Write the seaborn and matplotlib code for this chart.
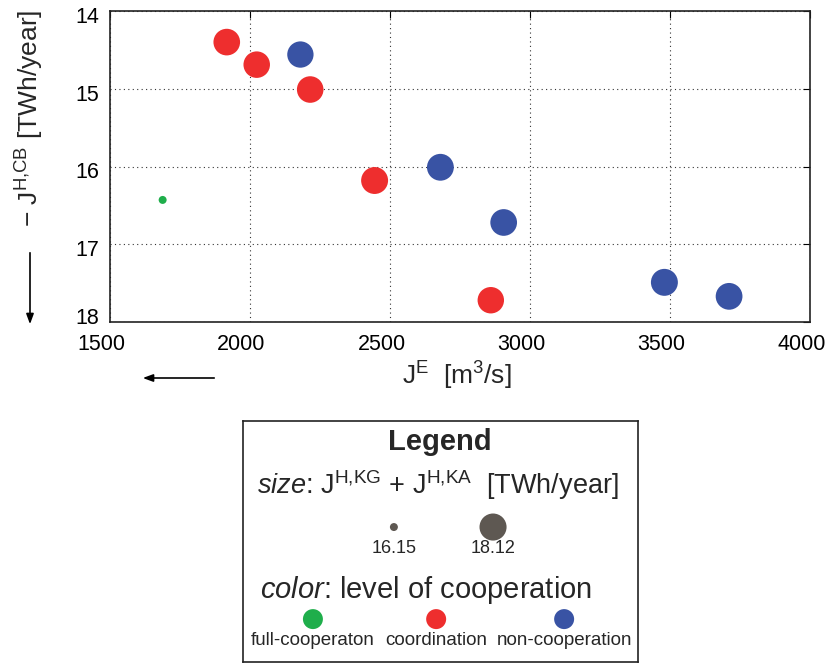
import numpy as np
import pandas as pd
import matplotlib
matplotlib.use('Agg')
import matplotlib.pyplot as plt
import matplotlib.transforms as mtransforms
import seaborn as sns
from matplotlib.patches import FancyArrowPatch

# water release J^E [m3/s]
je = [1688, 1917, 2024, 2180, 2215, 2445, 2680, 2906, 2860, 3480, 3711]
# -J^H,CB [TWh/year]
jh_cb = [16.43, 14.40, 14.69, 14.56, 15.01, 16.18, 16.01, 16.72, 17.72, 17.49, 17.67]
# J^H,KG + J^H,KA [TWh/year] (marker size)
jh_sum = [16.15, 18.05, 18.03, 18.00, 18.04, 18.10, 18.08, 18.06, 18.02, 18.10, 18.07]
level = ['full-cooperaton', 'coordination', 'coordination', 'non-cooperation',
         'coordination', 'coordination', 'non-cooperation', 'non-cooperation',
         'coordination', 'non-cooperation', 'non-cooperation']

levels = ['full-cooperaton', 'coordination', 'non-cooperation']
level_colors = ['#1fae4b', '#ee2e2e', '#3953a4']
size_ticks = [16.15, 18.12]
x_ticks = [1500, 2000, 2500, 3000, 3500, 4000]
y_ticks = [14, 15, 16, 17, 18]

sns.set_style('white')
plt.rcParams['font.family'] = ['Liberation Sans', 'DejaVu Sans']
plt.rcParams['mathtext.fontset'] = 'custom'
plt.rcParams['mathtext.rm'] = 'Liberation Sans'
plt.rcParams['mathtext.it'] = 'Liberation Sans:italic'
plt.rcParams['mathtext.bf'] = 'Liberation Sans:bold'

SIZES = (33, 380)
SIZE_NORM = (16.15, 18.12)

df = pd.DataFrame({'je': je, 'jh_cb': jh_cb, 'jh_sum': jh_sum, 'level': level})

fig = plt.figure(figsize=(8.27, 6.64), dpi=100)
W, H = 827, 664
ax = fig.add_axes([110 / W, 1 - 322 / H, 700 / W, 311 / H])

sns.scatterplot(data=df, x='je', y='jh_cb', hue='level', hue_order=levels,
                palette=level_colors, size='jh_sum', sizes=SIZES,
                size_norm=SIZE_NORM, linewidth=0, alpha=1, legend=False, ax=ax)

ax.set_xlim(1500, 4000)
ax.set_ylim(18, 14)
ax.set_xticks(x_ticks)
ax.set_yticks(y_ticks)
ax.tick_params(direction='in', top=True, right=True, length=5, width=0.8,
               labelsize=15.5, colors='black')
ax.tick_params(axis='x', pad=9)
ax.tick_params(axis='y', pad=8)
ax.grid(True, linestyle=(0, (1, 3)), color='#333333', linewidth=0.8)
for s in ax.spines.values():
    s.set_color('#222222')
    s.set_linewidth(1.2)
ax.set_xlabel('')
ax.set_ylabel('')

# matlab-like label placement (labels sit a bit left / inside the range)
for lab in ax.get_xticklabels():
    lab.set_transform(lab.get_transform() +
                      mtransforms.ScaledTranslation(-8.5 / 100, 0, fig.dpi_scale_trans))
for lab, dy in zip(ax.get_yticklabels(), [-4, -4, -4, -4, 6]):
    lab.set_transform(lab.get_transform() +
                      mtransforms.ScaledTranslation(0, dy / 100, fig.dpi_scale_trans))

fig.text(457 / W, 1 - 376 / H, r'J$^{\mathrm{E}}$  [m$^{3}$/s]', fontsize=19,
         ha='center', va='center')
fig.text(30 / W, 1 - 118 / H, '\u2212 J$^{\\mathrm{H{,}CB}}$ [TWh/year]', fontsize=19,
         ha='center', va='center', rotation=90)

# direction arrows
for p0, p1 in [((30, 250), (30, 327)), ((217, 378), (140, 378))]:
    fig.add_artist(FancyArrowPatch((p0[0] / W, 1 - p0[1] / H), (p1[0] / W, 1 - p1[1] / H),
                                   transform=fig.transFigure,
                                   arrowstyle='-|>,head_length=0.6,head_width=0.22',
                                   mutation_scale=10, color='black', linewidth=1.2))

# legend box
lg = fig.add_axes([243 / W, 1 - 662 / H, 395 / W, 241 / H])
lg.set_xticks([])
lg.set_yticks([])
for s in lg.spines.values():
    s.set_visible(True)
    s.set_color('#222222')
    s.set_linewidth(1.2)

lg.text(0.499, 0.913, 'Legend', fontsize=21, fontweight='bold', ha='center', va='center')
lg.text(0.494, 0.734, r'$\mathit{size}$: J$^{\mathrm{H{,}KG}}$ + J$^{\mathrm{H{,}KA}}$  [TWh/year]',
        fontsize=19.5, ha='center', va='center')

size_x = [0.382, 0.633]
sns.scatterplot(x=size_x, y=[0.56] * len(size_x), size=size_ticks, sizes=SIZES,
                size_norm=SIZE_NORM, color='#5e5852', linewidth=0, legend=False, ax=lg)
for xx, v in zip(size_x, size_ticks):
    lg.text(xx, 0.469, f'{v:.2f}', fontsize=13, ha='center', va='center')

lg.text(0.043, 0.299, r'$\mathit{color}$: level of cooperation', fontsize=21,
        ha='left', va='center')
color_x = [0.177, 0.489, 0.813]
sns.scatterplot(x=color_x, y=[0.178] * len(color_x), hue=levels, hue_order=levels,
                palette=level_colors, s=207, linewidth=0, legend=False, ax=lg)
for xx, name in zip(color_x, levels):
    lg.text(xx, 0.088, name, fontsize=13.5, ha='center', va='center')
lg.set_xlim(0, 1)
lg.set_ylim(0, 1)

fig.savefig('out.png', dpi=100)
